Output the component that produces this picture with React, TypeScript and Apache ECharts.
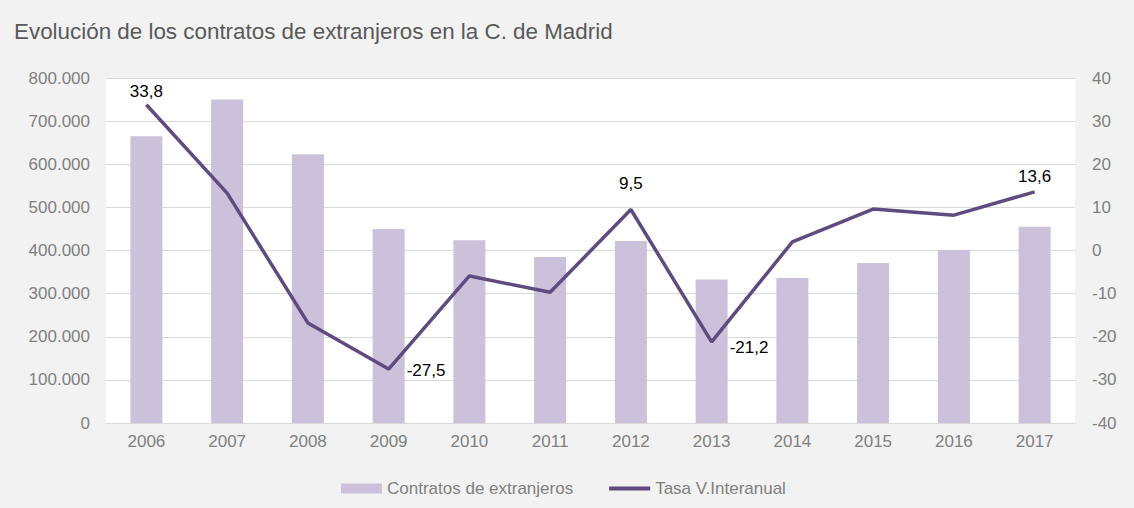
import React, { useEffect, useRef } from "react";
import * as echarts from "echarts";

const years = ["2006", "2007", "2008", "2009", "2010", "2011", "2012", "2013", "2014", "2015", "2016", "2017"];
const contratos = [665000, 750000, 623000, 450000, 424000, 385000, 422000, 333000, 336000, 371000, 401000, 455000];
const tasa = [33.8, 13.3, -16.8, -27.5, -5.9, -9.7, 9.5, -21.2, 2.0, 9.6, 8.2, 13.6];
const labelled = [0, 3, 6, 7, 11];

const FONT = "'Liberation Sans', Arial, sans-serif";
const GRAY = "#808080";
const LINE = "#5f4b80";

const labelOffsets: Record<number, number[]> = {
  0: [0, 0],
  3: [13, 1],
  6: [0, -13],
  7: [13, 6],
  11: [0, -2],
};

function fmtThousands(v: number) {
  return String(Math.round(v)).replace(/\B(?=(\d{3})+(?!\d))/g, ".");
}

export default function App() {
  const ref = useRef<HTMLDivElement>(null);
  useEffect(() => {
    document.body.style.margin = "0";
    const chart = echarts.init(ref.current!, null, { renderer: "svg" });
    const lineData = tasa.map((v, i) => {
      const show = labelled.includes(i);
      const below = v < -20;
      return {
        value: v,
        label: {
          show,
          position: below ? "right" : "top",
          offset: labelOffsets[i] || [0, 0],
        },
      };
    });
    chart.setOption({
      animation: false,
      backgroundColor: "#f2f2f2",
      textStyle: { fontFamily: FONT },
      title: {
        text: "Evolución de los contratos de extranjeros en la C. de Madrid",
        left: 9,
        top: 15,
        textStyle: { fontFamily: FONT, fontSize: 22.4, fontWeight: "normal", color: "#595959" },
      },
      grid: { left: 106, right: 59, top: 78, bottom: 85, show: true, backgroundColor: "#ffffff", borderWidth: 0 },
      legend: {
        bottom: 6,
        left: 336,
        itemGap: 36,
        itemWidth: 41,
        itemHeight: 10,
        textStyle: { fontFamily: FONT, fontSize: 17, color: GRAY },
        data: [
          { name: "Contratos de extranjeros", icon: "rect" },
          {
            name: "Tasa V.Interanual",
            icon: "path://M0,0 L41,0 Z M0,3 L41,3 L41,7 L0,7 Z M0,10 L41,10 Z",
            itemStyle: { color: LINE, borderWidth: 0 },
          },
        ],
      },
      xAxis: {
        type: "category",
        data: years,
        axisLine: { show: true, lineStyle: { color: "#d9d9d9", width: 1 } },
        axisTick: { show: false },
        axisLabel: { color: GRAY, fontSize: 17, fontFamily: FONT, margin: 10 },
      },
      yAxis: [
        {
          type: "value",
          min: 0,
          max: 800000,
          interval: 100000,
          axisLine: { show: false },
          axisTick: { show: false },
          splitLine: { lineStyle: { color: "#d9d9d9", width: 1 } },
          axisLabel: { color: GRAY, fontSize: 17, fontFamily: FONT, margin: 16, formatter: (v: number) => fmtThousands(v) },
        },
        {
          type: "value",
          min: -40,
          max: 40,
          interval: 10,
          axisLine: { show: false },
          axisTick: { show: false },
          splitLine: { show: false },
          axisLabel: { color: GRAY, fontSize: 17, fontFamily: FONT, margin: 17 },
        },
      ],
      series: [
        {
          name: "Contratos de extranjeros",
          type: "bar",
          data: contratos,
          barWidth: 32,
          itemStyle: { color: "#ccc1da" },
        },
        {
          name: "Tasa V.Interanual",
          type: "line",
          yAxisIndex: 1,
          data: lineData,
          symbol: "circle",
          symbolSize: 0,
          showSymbol: true,
          lineStyle: { color: LINE, width: 3.5 },
          itemStyle: { color: LINE },
          label: {
            color: "#000000",
            fontSize: 17,
            fontFamily: FONT,
            formatter: (p: any) => String(p.value).replace(".", ","),
          },
        },
      ],
    });
    return () => chart.dispose();
  }, []);
  return <div ref={ref} style={{ width: 1134, height: 508 }} />;
}
